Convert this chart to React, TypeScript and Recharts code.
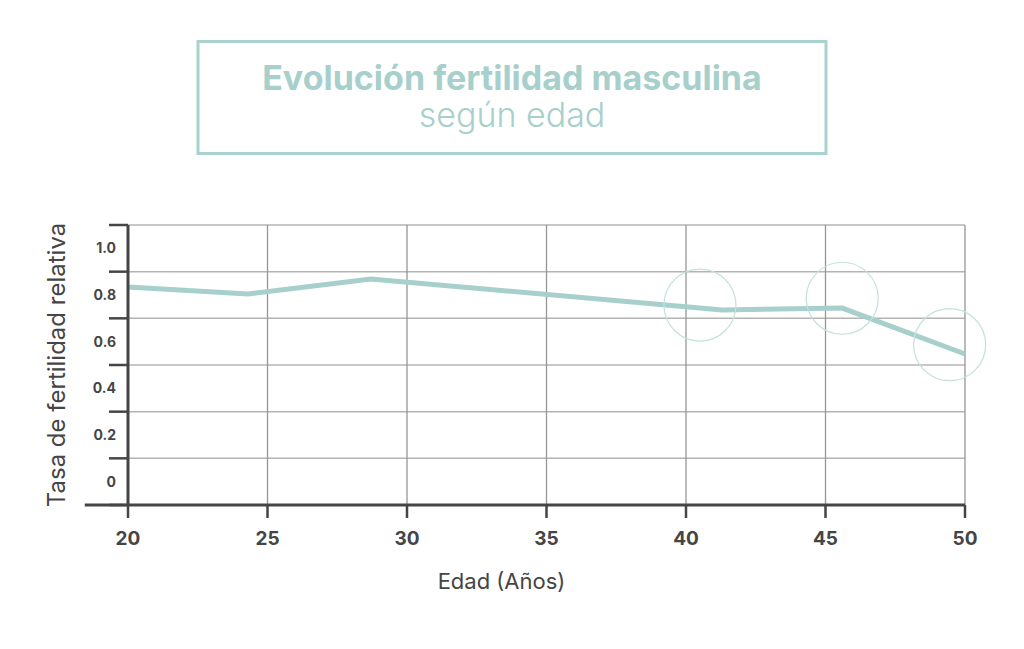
import {
  ComposedChart,
  Line,
  Scatter,
  XAxis,
  YAxis,
  CartesianGrid,
  ReferenceLine,
} from "recharts";

// age (years) and relative fertility rate
const ages = [20, 24.3, 28.7, 41.3, 45.6, 50];
const rates = [0.834, 0.804, 0.869, 0.736, 0.744, 0.547];

// highlight rings
const ringAges = [40.5, 45.6, 49.45];
const ringRates = [0.757, 0.786, 0.587];

const xTicks = [20, 25, 30, 35, 40, 45, 50];
const yLabelTicks = [0, 0.2, 0.4, 0.6, 0.8, 1.0];
const yGridTicks = [-0.1, 0.1, 0.3, 0.5, 0.7, 0.9, 1.1];

const lineData = ages.map((age, i) => ({ age, rate: rates[i] }));
const ringData = ringAges.map((age, i) => ({ age, rate: ringRates[i] }));

const TEAL = "#a7cfcb";
const DARK = "#454545";

const Ring = (props: any) => (
  <circle
    cx={props.cx}
    cy={props.cy}
    r={36}
    fill="none"
    stroke="#c3e1dd"
    strokeWidth={1.2}
  />
);

export default function App() {
  return (
    <div
      style={{
        position: "absolute",
        left: 0,
        top: 0,
        width: 1024,
        height: 649,
        background: "#fff",
        fontFamily: "Inter, sans-serif",
      }}
    >
      <svg
        width={1024}
        height={200}
        style={{ position: "absolute", left: 0, top: 0 }}
      >
        <rect
          x={198}
          y={41.5}
          width={628}
          height={112}
          fill="none"
          stroke="#a9d2ce"
          strokeWidth={3}
        />
        <text
          x={512}
          y={90}
          textAnchor="middle"
          fontSize={34}
          fontWeight={700}
          fill={TEAL}
        >
          Evolución fertilidad masculina
        </text>
        <text
          x={512}
          y={127}
          textAnchor="middle"
          fontSize={34}
          fontWeight={300}
          fill={TEAL}
        >
          según edad
        </text>
      </svg>

      <ComposedChart
        width={1024}
        height={649}
        data={lineData}
        margin={{ top: 225, right: 59, bottom: 0, left: 0 }}
        style={{ position: "absolute", left: 0, top: 0 }}
      >
        <CartesianGrid
          yAxisId="grid"
          vertical={false}
          stroke="#b4b4b4"
          strokeWidth={1.5}
        />
        <CartesianGrid
          yAxisId="grid"
          horizontal={false}
          stroke="#969696"
          strokeWidth={1.3}
        />
        <XAxis
          dataKey="age"
          type="number"
          domain={[20, 50]}
          ticks={xTicks}
          interval={0}
          height={144}
          tickSize={13}
          tickMargin={14}
          axisLine={{ stroke: DARK, strokeWidth: 3 }}
          tickLine={{ stroke: DARK, strokeWidth: 2.5 }}
          tick={{ fontSize: 19, fontWeight: 700, fill: DARK }}
          label={{
            value: "Edad (Años)",
            position: "insideTop",
            offset: 68,
            dx: -45,
            fontSize: 22,
            fill: DARK,
          }}
        />
        <YAxis
          yAxisId="grid"
          type="number"
          domain={[-0.1, 1.1]}
          ticks={yGridTicks}
          interval={0}
          width={12}
          tickSize={19}
          tickFormatter={() => ""}
          axisLine={{ stroke: DARK, strokeWidth: 3 }}
          tickLine={{ stroke: DARK, strokeWidth: 2.5 }}
        />
        <YAxis
          yAxisId="labels"
          type="number"
          domain={[-0.1, 1.1]}
          ticks={yLabelTicks}
          interval={0}
          width={116}
          tickSize={1}
          tickMargin={0}
          axisLine={false}
          tickLine={false}
          tickFormatter={(v: number) => (v === 0 ? "0" : v.toFixed(1))}
          tick={{ fontSize: 14, fontWeight: 700, fill: DARK, dx: 1 }}
          label={{
            value: "Tasa de fertilidad relativa",
            angle: -90,
            position: "insideLeft",
            offset: 56,
            fontSize: 24,
            fill: DARK,
            style: { textAnchor: "middle" },
          }}
        />
        <ReferenceLine
          yAxisId="grid"
          ifOverflow="visible"
          segment={[
            { x: 18.45, y: -0.1 },
            { x: 20, y: -0.1 },
          ]}
          stroke={DARK}
          strokeWidth={3}
        />
        {/* invisible copy so the label axis has a series of its own */}
        <Line
          yAxisId="labels"
          dataKey="rate"
          stroke="none"
          dot={false}
          activeDot={false}
          isAnimationActive={false}
        />
        <Line
          yAxisId="grid"
          dataKey="rate"
          type="linear"
          stroke={TEAL}
          strokeWidth={5}
          dot={false}
          isAnimationActive={false}
        />
        <Scatter
          yAxisId="grid"
          data={ringData}
          dataKey="rate"
          shape={Ring}
          isAnimationActive={false}
        />
      </ComposedChart>
    </div>
  );
}
